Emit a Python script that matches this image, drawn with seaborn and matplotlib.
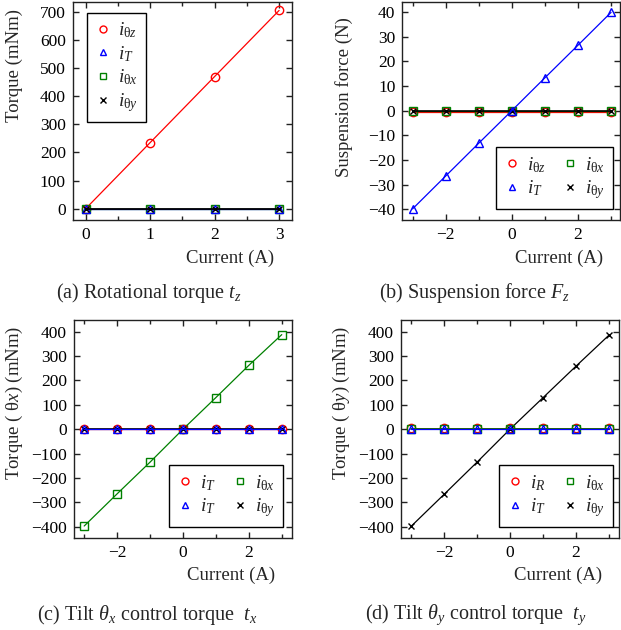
import numpy as np
import pandas as pd
import matplotlib
matplotlib.use("Agg")
import matplotlib.pyplot as plt
from matplotlib.lines import Line2D
from matplotlib.ticker import MultipleLocator
import seaborn as sns

# ---------------- data ----------------
current_a = [0, 1, 2, 3]
a_theta_z = [0, 235, 470, 705]
a_T = [0, 0, 0, 0]
a_theta_x = [0, 0, 0, 0]
a_theta_y = [0, 0, 0, 0]

current_bcd = [-3, -2, -1, 0, 1, 2, 3]
b_theta_z = [-0.4, -0.4, -0.4, -0.4, -0.4, -0.4, -0.4]
b_T = [-39.8, -26.5, -13.2, 0, 13.3, 26.5, 39.8]
b_theta_x = [0, 0, 0, 0, 0, 0, 0]
b_theta_y = [0, 0, 0, 0, 0, 0, 0]

c_R = [0, 0, 0, 0, 0, 0, 0]
c_T = [0, 0, 0, 0, 0, 0, 0]
c_theta_x = [-397, -265, -135, 0, 130, 262, 388]
c_theta_y = [0, 0, 0, 0, 0, 0, 0]

d_R = [4, 4, 4, 4, 4, 4, 4]
d_T = [0, 0, 0, 0, 0, 0, 0]
d_theta_x = [0, 0, 0, 0, 0, 0, 0]
d_theta_y = [-398, -267, -135, 0, 129, 258, 385]

lab_tz = r"$i_{\mathrm{\theta}z}$"
lab_T = r"$i_{T}$"
lab_R = r"$i_{R}$"
lab_tx = r"$i_{\mathrm{\theta}x}$"
lab_ty = r"$i_{\mathrm{\theta}y}$"

RED, BLUE, GREEN, BLACK = "#ff0000", "#0000ff", "#008000", "#000000"

# ---------------- style ----------------
sns.set_style("ticks")
plt.rcParams["font.family"] = ["Liberation Serif", "DejaVu Serif"]
plt.rcParams["mathtext.fontset"] = "custom"
plt.rcParams["mathtext.rm"] = "Liberation Serif"
plt.rcParams["mathtext.it"] = "Liberation Serif:italic"
plt.rcParams["mathtext.bf"] = "Liberation Serif:bold"
plt.rcParams["axes.linewidth"] = 1.0
plt.rcParams["axes.edgecolor"] = "#222222"

fig = plt.figure(figsize=(6.21, 6.30), dpi=100)

W, H = 621, 630


def add_axes(l, r, t, b):
    return fig.add_axes([l / W, 1 - b / H, (r - l) / W, (b - t) / H])


ax_a = add_axes(72.7, 292.0, 2.0, 220.0)
ax_b = add_axes(402.3, 620.0, 2.0, 220.0)
ax_c = add_axes(74.0, 292.3, 320.0, 537.7)
ax_d = add_axes(401.0, 619.3, 320.0, 537.7)

MS = 6


def draw(ax, x, y, color, marker, lw=0.9):
    df = pd.DataFrame({"x": x, "y": y})
    ms = MS - 1 if marker == "x" else MS
    sns.lineplot(data=df, x="x", y="y", ax=ax, color=color, marker=marker,
                 markersize=ms, markerfacecolor="none", markeredgecolor=color,
                 markeredgewidth=1.0, linewidth=lw, legend=False)


def style(ax, xlim, ylim, xmaj, xmin, ymaj, ylabel, ylab_y, xlab_x):
    ax.set_xlim(*xlim)
    ax.set_ylim(*ylim)
    ax.xaxis.set_major_locator(MultipleLocator(xmaj))
    ax.xaxis.set_minor_locator(MultipleLocator(xmin))
    ax.yaxis.set_major_locator(MultipleLocator(ymaj))
    ax.tick_params(which="both", direction="in", top=True, right=True,
                   labelsize=12.5, colors="#222222", labelcolor="black")
    ax.tick_params(which="major", length=4, width=1.0, pad=5)
    ax.tick_params(which="minor", length=3, width=1.0)
    ax.set_xlabel("Current (A)", fontsize=13.5)
    ax.set_ylabel(ylabel, fontsize=13.5)
    ax.xaxis.set_label_coords(xlab_x, -0.135)
    ax.yaxis.set_label_coords(-0.225, ylab_y)
    for s in ax.spines.values():
        s.set_visible(True)


def legend(ax, entries, ncol, loc, anchor):
    handles = [Line2D([], [], linestyle="none", marker=m, color=c,
                      markerfacecolor="none", markeredgecolor=c,
                      markersize=5.0, markeredgewidth=1.0)
               for (lab, c, m) in entries]
    labels = [lab for (lab, c, m) in entries]
    leg = ax.legend(handles, labels, ncol=ncol, loc=loc, bbox_to_anchor=anchor,
                    borderaxespad=0, fontsize=14, frameon=True, fancybox=False,
                    handlelength=0.8, handletextpad=0.4, labelspacing=0.2,
                    columnspacing=0.8, borderpad=0.4)
    fr = leg.get_frame()
    fr.set_edgecolor("black")
    fr.set_linewidth(1.0)
    fr.set_alpha(1)


# (a)
draw(ax_a, current_a, a_theta_z, RED, "o")
draw(ax_a, current_a, a_theta_x, GREEN, "s")
draw(ax_a, current_a, a_T, BLUE, "^")
draw(ax_a, current_a, a_theta_y, BLACK, "x", lw=1.3)
style(ax_a, (-0.2, 3.2), (-40, 735), 1, 0.5, 100, "Torque (mNm)", 0.709, 0.717)
legend(ax_a, [(lab_tz, RED, "o"), (lab_T, BLUE, "^"), (lab_tx, GREEN, "s"),
              (lab_ty, BLACK, "x")], 1, "upper left", (0.065, 0.951))

# (b)
draw(ax_b, current_bcd, b_theta_z, RED, "o")
draw(ax_b, current_bcd, b_theta_x, GREEN, "s")
draw(ax_b, current_bcd, b_theta_y, BLACK, "x", lw=1.2)
draw(ax_b, current_bcd, b_T, BLUE, "^")
style(ax_b, (-3.31, 3.27), (-44.3, 44), 2, 1, 10, "Suspension force (N)", 0.562, 0.72)
legend(ax_b, [(lab_tz, RED, "o"), (lab_T, BLUE, "^"), (lab_tx, GREEN, "s"),
              (lab_ty, BLACK, "x")], 2, "lower right", (0.968, 0.05))

# (c)
draw(ax_c, current_bcd, c_theta_x, GREEN, "s")
draw(ax_c, current_bcd, c_R, RED, "o")
draw(ax_c, current_bcd, c_theta_y, BLACK, "x", lw=1.2)
draw(ax_c, current_bcd, c_T, BLUE, "^")
style(ax_c, (-3.31, 3.32), (-445, 448), 2, 1, 100, "Torque ( θ$x$) (mNm)", 0.621, 0.718)
legend(ax_c, [(lab_T, RED, "o"), (lab_T, BLUE, "^"), (lab_tx, GREEN, "s"),
              (lab_ty, BLACK, "x")], 2, "lower right", (0.957, 0.048))

# (d)
draw(ax_d, current_bcd, d_R, RED, "o", lw=0.7)
draw(ax_d, current_bcd, d_theta_y, BLACK, "x")
draw(ax_d, current_bcd, d_theta_x, GREEN, "s", lw=1.2)
draw(ax_d, current_bcd, d_T, BLUE, "^")
style(ax_d, (-3.31, 3.32), (-445, 448), 2, 1, 100, "Torque ( θ$y$) (mNm)", 0.621, 0.72)
legend(ax_d, [(lab_R, RED, "o"), (lab_T, BLUE, "^"), (lab_tx, GREEN, "s"),
              (lab_ty, BLACK, "x")], 2, "lower right", (0.971, 0.048))

# captions
cap_kw = dict(fontsize=14.5, ha="center", va="center")
fig.text(148.5 / W, 1 - 293 / H, "(a) Rotational torque $t_z$", **cap_kw)
fig.text(475 / W, 1 - 293 / H, "(b) Suspension force $F_z$", **cap_kw)
fig.text(147.5 / W, 1 - 615 / H, r"(c) Tilt $\theta_x$ control torque  $t_x$", **cap_kw)
fig.text(476 / W, 1 - 615 / H, r"(d) Tilt $\theta_y$ control torque  $t_y$", **cap_kw)

fig.savefig("out.png", dpi=100)
